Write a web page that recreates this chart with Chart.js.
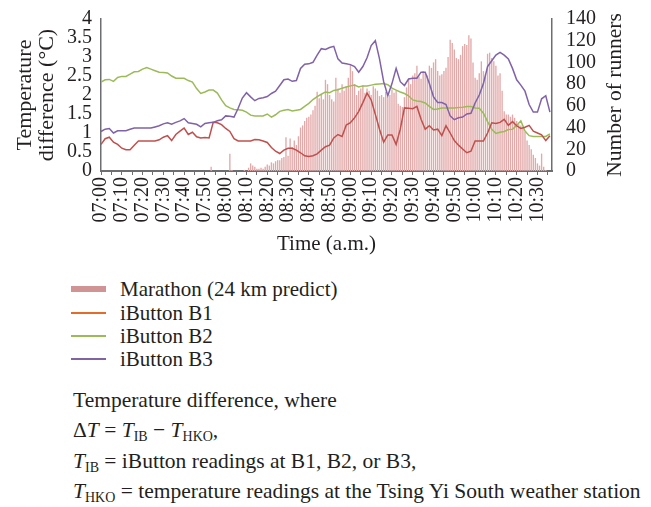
<!DOCTYPE html>
<html>
<head>
<meta charset="utf-8">
<script src="https://cdn.jsdelivr.net/npm/chart.js@4.4.0/dist/chart.umd.min.js"></script>
<style>
  body { margin: 0; background: #fff; font-family: "Liberation Serif", "DejaVu Serif", serif; color: #231f20; }
  #wrap { position: relative; width: 651px; height: 507px; overflow: hidden; }
  #chartBox { position: absolute; left: 0; top: -7px; width: 651px; height: 264px; }
  .leg { position: absolute; left: 71px; height: 22px; font-size: 21px; display: flex; align-items: center; white-space: nowrap; }
  .sw { width: 35px; margin-right: 14px; }
  .note { position: absolute; left: 73px; font-size: 21.5px; line-height: 22px; white-space: nowrap; }
  .note i { font-style: italic; }
  sub { font-size: 14px; vertical-align: -4px; line-height: 0; }
</style>
</head>
<body>
<div id="wrap">
  <div id="chartBox"><canvas id="tempChart"></canvas></div>

  <div class="leg" style="top:278px"><span class="sw" style="height:6px;background:#d09494"></span>Marathon (24 km predict)</div>
  <div class="leg" style="top:302px"><span class="sw" style="height:2px;background:#e46c2a"></span>iButton B1</div>
  <div class="leg" style="top:325px"><span class="sw" style="height:2px;background:#9bbb59"></span>iButton B2</div>
  <div class="leg" style="top:348px"><span class="sw" style="height:2px;background:#8064a2"></span>iButton B3</div>

  <div class="note" style="top:389px">Temperature difference, where</div>
  <div class="note" style="top:419px">&Delta;<i>T</i> = <i>T</i><sub>IB</sub> &minus; <i>T</i><sub>HKO</sub>,</div>
  <div class="note" style="top:450px"><i>T</i><sub>IB</sub> = iButton readings at B1, B2, or B3,</div>
  <div class="note" style="top:480px"><i>T</i><sub>HKO</sub> = temperature readings at the Tsing Yi South weather station</div>
</div>

<script>
document.addEventListener('DOMContentLoaded', () => {
    // time axis: minutes after 07:00
    const startHour = 7;
    const axisEnd = 217;        // last minute shown (about 10:37)
    const tempStep = 2;         // iButton readings every 2 minutes
    const runnerStep = 1;       // runner counts every minute

    // temperature difference (°C), one value per 2 minutes from 07:00
    const b1Diff = [
        0.70, 0.85, 0.89, 0.76, 0.70, 0.60, 0.56, 0.56, 0.68, 0.79,
        0.79, 0.79, 0.79, 0.79, 0.82, 0.89, 0.93, 0.80, 0.96, 1.05,
        1.13, 0.96, 1.02, 0.90, 0.87, 0.88, 0.87, 1.28, 1.27, 1.22,
        1.12, 1.04, 0.85, 0.79, 0.79, 0.79, 0.79, 0.83, 0.82, 0.79,
        0.75, 0.62, 0.52, 0.46, 0.55, 0.60, 0.60, 0.55, 0.48, 0.40,
        0.38, 0.40, 0.45, 0.55, 0.64, 0.68, 0.87, 0.96, 0.91, 1.21,
        1.27, 1.40, 1.57, 1.80, 2.05, 1.87, 1.49, 1.10, 0.76, 0.95,
        0.95, 0.70, 1.10, 1.66, 1.65, 1.64, 1.70, 1.36, 1.10, 1.19,
        1.08, 1.10, 0.93, 1.19, 1.00, 0.80, 0.68, 0.58, 0.48, 0.52,
        0.79, 0.79, 0.79, 1.00, 1.27, 1.25, 1.28, 1.36, 1.20, 1.30,
        1.19, 1.12, 1.15, 1.20, 1.05, 1.00, 0.95, 0.80, 0.93
    ];
    const b2Diff = [
        2.34, 2.40, 2.41, 2.36, 2.46, 2.49, 2.49, 2.55, 2.61, 2.62,
        2.68, 2.72, 2.68, 2.64, 2.60, 2.59, 2.58, 2.50, 2.44, 2.44,
        2.44, 2.38, 2.34, 2.17, 2.04, 2.08, 2.13, 2.13, 2.05, 1.87,
        1.72, 1.66, 1.62, 1.61, 1.60, 1.55, 1.47, 1.45, 1.45, 1.45,
        1.50, 1.42, 1.48, 1.57, 1.60, 1.62, 1.58, 1.60, 1.62, 1.70,
        1.78, 1.88, 1.96, 2.02, 2.08, 2.06, 2.12, 2.14, 2.18, 2.21,
        2.24, 2.26, 2.21, 2.24, 2.24, 2.26, 2.28, 2.29, 2.30, 2.27,
        2.18, 2.13, 2.08, 2.04, 1.98, 1.87, 1.84, 1.83, 1.79, 1.70,
        1.62, 1.63, 1.66, 1.66, 1.66, 1.66, 1.67, 1.68, 1.70, 1.70,
        1.66, 1.65, 1.52, 1.30, 1.10, 0.99, 1.02, 1.04, 1.09, 1.10,
        1.20, 1.32, 1.05, 0.93, 0.91, 0.91, 0.91, 0.91, 0.98
    ];
    const b3Diff = [
        1.04, 1.10, 1.12, 1.00, 1.06, 1.06, 1.06, 1.10, 1.13, 1.13,
        1.13, 1.13, 1.13, 1.16, 1.19, 1.24, 1.27, 1.23, 1.28, 1.32,
        1.38, 1.27, 1.25, 1.23, 1.16, 1.25, 1.27, 1.28, 1.32, 1.35,
        1.45, 1.44, 1.42, 1.65, 1.92, 2.06, 1.95, 1.85, 1.91, 1.93,
        1.96, 2.04, 2.10, 2.25, 2.40, 2.42, 2.36, 2.38, 2.70, 2.81,
        2.82, 2.86, 3.05, 3.22, 3.20, 3.25, 3.28, 2.95, 2.84, 2.82,
        2.80, 2.75, 2.60, 2.75, 2.98, 3.30, 3.43, 2.95, 2.35, 1.98,
        2.30, 2.70, 2.35, 2.25, 2.42, 2.44, 2.44, 2.60, 2.60, 2.30,
        1.95, 1.80, 1.80, 1.75, 1.45, 1.35, 1.40, 1.42, 1.50, 1.52,
        1.79, 2.00, 2.30, 2.75, 2.90, 3.05, 3.12, 3.05, 2.95, 2.70,
        2.40, 2.26, 2.10, 1.75, 1.55, 1.55, 1.90, 1.98, 1.55
    ];

    // predicted marathon runners passing (24 km), one value per minute from 07:00
    const marathonRunners = [
        0, 0, 0, 0, 0, 0, 0, 0, 0, 0,
        0, 0, 0, 0, 0, 0, 0, 0, 0, 0,
        0, 0, 0, 0, 0, 0, 0, 0, 0, 0,
        0, 0, 0, 0, 0, 0, 0, 0, 0, 0,
        0, 0, 0, 0, 0, 0, 0, 0, 0, 0,
        0, 0, 0, 4, 0, 0, 0, 0, 0, 0,
        0, 0, 16, 1, 0, 0, 0, 0, 0, 1,
        0, 3, 7, 5, 4, 2, 2, 3, 2, 4,
        6, 5, 8, 7, 9, 10, 10, 12, 13, 31,
        14, 30, 22, 28, 24, 32, 40, 42, 46, 49,
        50, 52, 56, 60, 73, 67, 70, 66, 84, 80,
        70, 66, 64, 86, 76, 72, 80, 74, 78, 86,
        98, 92, 80, 70, 74, 76, 79, 72, 76, 74,
        70, 78, 76, 74, 69, 70, 68, 73, 68, 70,
        75, 72, 74, 62, 60, 59, 68, 77, 85, 80,
        88, 90, 97, 87, 85, 92, 90, 88, 97, 95,
        100, 103, 92, 88, 89, 92, 95, 105, 121, 118,
        112, 104, 103, 107, 115, 117, 116, 125, 122, 100,
        86, 84, 90, 101, 92, 89, 108, 109, 104, 101,
        97, 88, 90, 74, 55, 52, 52, 50, 52, 49,
        46, 43, 42, 40, 36, 28, 24, 20, 15, 12,
        7, 5, 16, 4, 1, 0, 0
    ];

    const serif = '"Liberation Serif", "DejaVu Serif", serif';
    const ink = '#231f20';
    const axisGray = '#6d6e71';

    const timeLabel = (m) => {
        const h = startHour + Math.floor(m / 60);
        const mm = m % 60;
        return String(h).padStart(2, '0') + ':' + String(mm).padStart(2, '0');
    };

    const toPoints = (values, step) => values.map((v, i) => ({ x: i * step, y: v }));

    // right axis title reads bottom-to-top, so draw it ourselves
    const rightTitle = {
        id: 'rightTitle',
        afterDraw(chart) {
            const { ctx, chartArea } = chart;
            ctx.save();
            ctx.translate(615, (chartArea.top + chartArea.bottom) / 2);
            ctx.rotate(-Math.PI / 2);
            ctx.font = '21.5px ' + serif;
            ctx.fillStyle = ink;
            ctx.textAlign = 'center';
            ctx.textBaseline = 'middle';
            ctx.fillText('Number of runners', 0, 0);
            ctx.restore();
        }
    };

    const ctx = document.getElementById('tempChart');
    new Chart(ctx, {
        type: 'line',
        data: {
            datasets: [
                {
                    label: 'iButton B1',
                    data: toPoints(b1Diff, tempStep),
                    borderColor: '#c0504d',
                    borderWidth: 1.5,
                    pointRadius: 0,
                    yAxisID: 'y',
                    order: 1
                },
                {
                    label: 'iButton B2',
                    data: toPoints(b2Diff, tempStep),
                    borderColor: '#9bbb59',
                    borderWidth: 1.5,
                    pointRadius: 0,
                    yAxisID: 'y',
                    order: 2
                },
                {
                    label: 'iButton B3',
                    data: toPoints(b3Diff, tempStep),
                    borderColor: '#7f62a8',
                    borderWidth: 1.5,
                    pointRadius: 0,
                    yAxisID: 'y',
                    order: 0
                },
                {
                    type: 'bar',
                    label: 'Marathon (24 km predict)',
                    data: toPoints(marathonRunners, runnerStep),
                    backgroundColor: '#e2a9a9',
                    barPercentage: 0.65,
                    categoryPercentage: 1,
                    yAxisID: 'y2',
                    order: 5
                }
            ]
        },
        options: {
            responsive: true,
            maintainAspectRatio: false,
            animation: false,
            layout: { padding: { top: 2, left: 0, right: 0, bottom: 0 } },
            plugins: {
                legend: { display: false }, // legend is laid out below the chart
                tooltip: { enabled: false }
            },
            scales: {
                x: {
                    type: 'linear',
                    min: 0,
                    max: axisEnd,
                    offset: false,
                    grid: { display: true, drawOnChartArea: false, drawTicks: true, tickLength: 4, color: axisGray, offset: false },
                    border: { color: axisGray, width: 2 },
                    ticks: {
                        stepSize: 5,
                        includeBounds: false,
                        autoSkip: false,
                        minRotation: 90,
                        maxRotation: 90,
                        padding: 2,
                        color: ink,
                        font: { family: serif, size: 20 },
                        callback: (v) => (v % 10 === 0 ? timeLabel(v) : '')
                    },
                    title: { display: true, text: 'Time (a.m.)', color: ink, font: { family: serif, size: 21 }, padding: 0 },
                    afterFit: (s) => { s.height = 86; }
                },
                y: {
                    position: 'left',
                    min: 0,
                    max: 4,
                    grid: { display: false, drawTicks: false },
                    border: { color: axisGray, width: 1.5 },
                    ticks: {
                        stepSize: 0.5,
                        autoSkip: false,
                        padding: 9,
                        color: ink,
                        font: { family: serif, size: 20 },
                        callback: (v) => String(v)
                    },
                    title: {
                        display: true,
                        text: ['Temperature', 'difference (°C)'],
                        color: ink,
                        font: { family: serif, size: 22, lineHeight: 1 },
                        padding: { top: 14, bottom: 0 }
                    },
                    afterFit: (s) => { s.width = 101; }
                },
                y2: {
                    position: 'right',
                    min: 0,
                    max: 140,
                    grid: { display: false, drawTicks: false },
                    border: { color: axisGray, width: 1.5 },
                    ticks: { stepSize: 20, autoSkip: false, padding: 14, color: ink, font: { family: serif, size: 20 } },
                    afterFit: (s) => { s.width = 99; }
                }
            }
        },
        plugins: [rightTitle]
    });
});
</script>
</body>
</html>
